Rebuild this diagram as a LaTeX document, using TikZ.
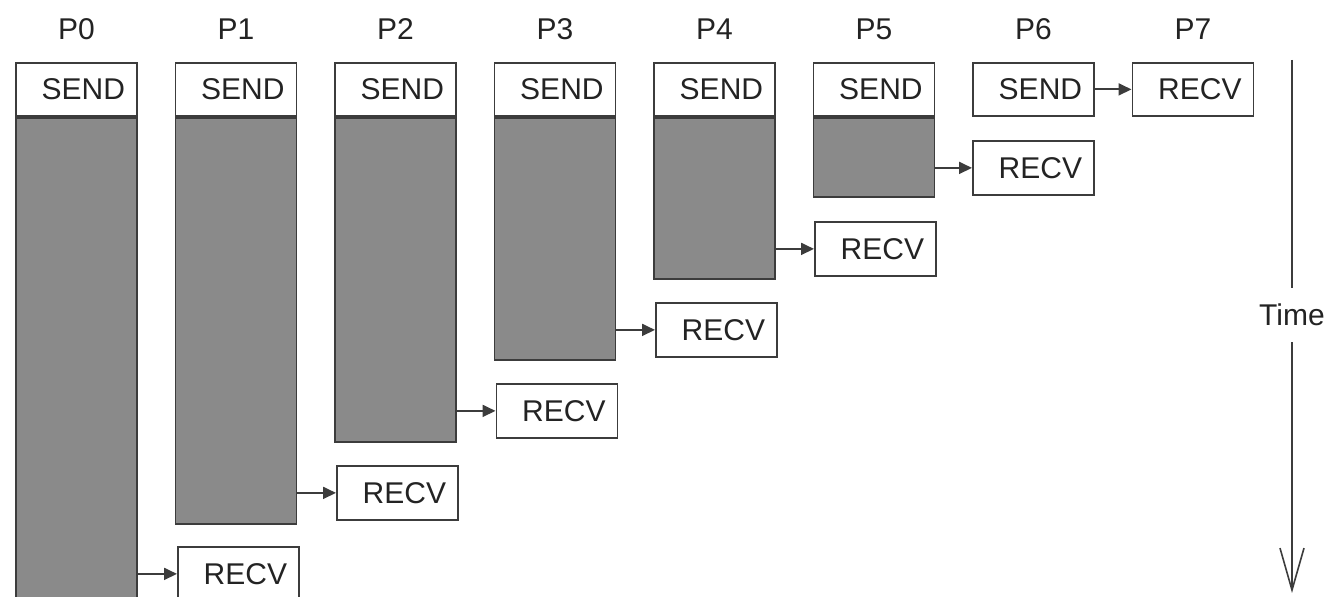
\documentclass[tikz,border=0pt]{standalone}
\usepackage{fontspec}
\setmainfont{Liberation Sans}
\usetikzlibrary{arrows.meta}
\definecolor{fillg}{RGB}{138,138,138}
\definecolor{edge}{RGB}{60,60,60}
\definecolor{ink}{RGB}{35,35,35}
\tikzset{
  box/.style={draw=edge, line width=0.9pt, fill=white, inner sep=0pt,
    minimum width=60.5pt, minimum height=26.5pt, anchor=north west,
    text=ink, font=\fontsize{15}{18}\selectfont},
  column/.style={draw=edge, line width=0.9pt, fill=fillg, inner sep=0pt,
    minimum width=60.5pt, anchor=north west},
  msg/.style={draw=edge, line width=0.9pt, -{Triangle[length=6.5pt,width=6pt]}},
  plabel/.style={text=ink, font=\fontsize{15}{18}\selectfont},
  timeline/.style={draw=edge, line width=0.8pt}
}
\begin{document}
\begin{tikzpicture}[x=0.5pt,y=-0.5pt]
\clip (0,0) rectangle (1334,597);
\fill[white] (0,0) rectangle (1334,597);
% columns: SEND boxes
\foreach \i/\x in {0/15,1/174.5,2/334,3/493.5,4/653,5/812.5,6/972}{
  \node[box] (s\i) at (\x,62) {\hspace*{7pt}SEND};
  \node[plabel] (p\i) at ([yshift=16.5pt]s\i.north) {P\i};
}
\node[box] (r7) at (1131.5,62) {\hspace*{7pt}RECV};
\node[plabel] (p7) at ([yshift=16.5pt]r7.north) {P7};
% gray busy columns
\node[column, minimum height=260pt] (g0) at (s0.south west) {};
\node[column, minimum height=203pt] (g1) at (s1.south west) {};
\node[column, minimum height=162pt] (g2) at (s2.south west) {};
\node[column, minimum height=121pt] (g3) at (s3.south west) {};
\node[column, minimum height=80.5pt] (g4) at (s4.south west) {};
\node[column, minimum height=39.5pt] (g5) at (s5.south west) {};
% RECV boxes
\node[box, minimum height=27pt] (r1) at (177,546) {\hspace*{7pt}RECV};
\node[box, minimum height=27pt] (r2) at (336,465) {\hspace*{7pt}RECV};
\node[box, minimum height=27pt] (r3) at (495.5,383) {\hspace*{7pt}RECV};
\node[box, minimum height=27pt] (r4) at (655,302) {\hspace*{7pt}RECV};
\node[box, minimum height=27pt] (r5) at (814,221) {\hspace*{7pt}RECV};
\node[box, minimum height=27pt] (r6) at (972,140) {\hspace*{7pt}RECV};
% messages
\draw[msg] (r1.west -| g0.east) -- (r1.west);
\draw[msg] (r2.west -| g1.east) -- (r2.west);
\draw[msg] (r3.west -| g2.east) -- (r3.west);
\draw[msg] (r4.west -| g3.east) -- (r4.west);
\draw[msg] (r5.west -| g4.east) -- (r5.west);
\draw[msg] (r6.west -| g5.east) -- (r6.west);
\draw[msg] (s6.east) -- (r7.west);
% time axis
\node[plabel, inner sep=0pt, minimum height=27pt] (time) at (1292,315) {Time};
\coordinate (ttop) at (1292,60);
\coordinate (tbot) at (1292,593);
\draw[timeline] (ttop) -- (time.north);
\draw[timeline, -{Straight Barb[length=21pt,width=12pt,line width=0.8pt]}] (time.south) -- (tbot);
\end{tikzpicture}
\end{document}
